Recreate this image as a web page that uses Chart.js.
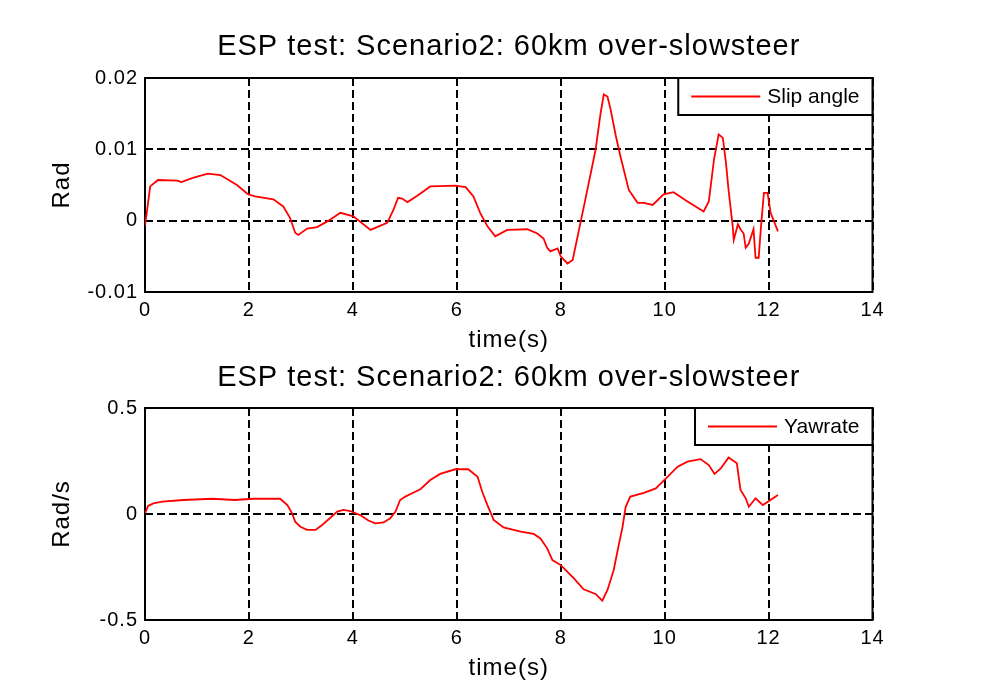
<!DOCTYPE html>
<html>
<head>
<meta charset="utf-8">
<title>ESP test</title>
<script src="https://cdn.jsdelivr.net/npm/chart.js@4.4.1/dist/chart.umd.min.js"></script>
<style>
    html, body { margin: 0; padding: 0; background: #fff; }
    #wrap { position: relative; width: 981px; height: 700px; }
    #wrap canvas { position: absolute; left: 0; }
</style>
</head>
<body>
<div id="wrap">
    <canvas id="slip-chart" width="981" height="355" style="top:0;width:981px;height:355px"></canvas>
    <canvas id="yaw-chart" width="981" height="345" style="top:355px;width:981px;height:345px"></canvas>
</div>
<script>
// data
const chartTitle = 'ESP test: Scenario2: 60km over-slowsteer';

const xTicks = [0, 2, 4, 6, 8, 10, 12, 14];

const slipTicks = [-0.01, 0, 0.01, 0.02];
const slipTickLabels = ['-0.01', '0', '0.01', '0.02'];
const yawTicks = [-0.5, 0, 0.5];
const yawTickLabels = ['-0.5', '0', '0.5'];

const slipTime = [0, 0.05, 0.1, 0.25, 0.62, 0.7, 0.92, 1.21, 1.45, 1.77, 1.98, 2.12, 2.47, 2.66, 2.79, 2.89, 2.95,
    3.12, 3.31, 3.51, 3.76, 4.01, 4.34, 4.66, 4.78, 4.87, 4.95, 5.05, 5.24, 5.49, 5.97, 6.17, 6.32, 6.45, 6.59,
    6.74, 6.97, 7.36, 7.55, 7.67, 7.74, 7.8, 7.94, 8.0, 8.13, 8.23, 8.34, 8.42, 8.54, 8.67, 8.77, 8.83, 8.9,
    8.96, 9.06, 9.15, 9.31, 9.48, 9.6, 9.77, 9.98, 10.17, 10.44, 10.75, 10.85, 10.95, 11.04, 11.12, 11.18,
    11.23, 11.31, 11.33, 11.41, 11.46, 11.52, 11.56, 11.62, 11.71, 11.75, 11.81, 11.85, 11.91, 11.98, 12.04, 12.18];
const slipAngle = [-0.0007, 0.002, 0.0048, 0.0057, 0.0056, 0.0054, 0.006, 0.0066, 0.0064, 0.005, 0.0037, 0.0034,
    0.003, 0.002, 0.0004, -0.0017, -0.002, -0.0011, -0.0009, -0.0001, 0.0011, 0.0006, -0.0013, -0.0003, 0.0015,
    0.0032, 0.0031, 0.0026, 0.0035, 0.0048, 0.0049, 0.0047, 0.0034, 0.0011, -0.0008, -0.0022, -0.0013, -0.0012,
    -0.0018, -0.0025, -0.0038, -0.0043, -0.0039, -0.005, -0.006, -0.0055, -0.0017, 0.0011, 0.0053, 0.0099,
    0.0152, 0.0177, 0.0174, 0.0156, 0.0119, 0.009, 0.0043, 0.0025, 0.0025, 0.0022, 0.0037, 0.004, 0.0027,
    0.0013, 0.0027, 0.0086, 0.0121, 0.0116, 0.0081, 0.0043, -0.0008, -0.0027, -0.0005, -0.0012, -0.0018,
    -0.0038, -0.0032, -0.0012, -0.0052, -0.0052, -0.0012, 0.0039, 0.0039, 0.0011, -0.0015];

const yawTime = [0, 0.06, 0.16, 0.33, 0.74, 1.29, 1.73, 2.08, 2.6, 2.74, 2.83, 2.89, 2.99, 3.12, 3.28, 3.41,
    3.7, 3.82, 3.95, 4.14, 4.3, 4.43, 4.59, 4.72, 4.82, 4.91, 5.01, 5.14, 5.3, 5.49, 5.68, 5.97, 6.22, 6.4,
    6.49, 6.59, 6.71, 6.9, 7.23, 7.48, 7.61, 7.74, 7.84, 8.0, 8.25, 8.44, 8.67, 8.8, 8.9, 9.02, 9.11, 9.19,
    9.25, 9.34, 9.6, 9.83, 10.06, 10.25, 10.44, 10.69, 10.85, 10.96, 11.08, 11.23, 11.39, 11.46, 11.56,
    11.62, 11.75, 11.89, 12.18];
const yawRate = [0.003, 0.038, 0.05, 0.058, 0.066, 0.072, 0.066, 0.072, 0.072, 0.042, 0.003, -0.036, -0.06,
    -0.075, -0.075, -0.052, 0.011, 0.019, 0.014, -0.005, -0.031, -0.044, -0.04, -0.02, 0.011, 0.066, 0.082,
    0.098, 0.117, 0.16, 0.189, 0.211, 0.211, 0.176, 0.105, 0.042, -0.028, -0.063, -0.083, -0.094, -0.115,
    -0.162, -0.217, -0.241, -0.303, -0.355, -0.377, -0.409, -0.358, -0.264, -0.154, -0.06, 0.034, 0.082,
    0.1, 0.121, 0.176, 0.223, 0.247, 0.259, 0.231, 0.189, 0.215, 0.266, 0.239, 0.113, 0.074, 0.034, 0.074,
    0.042, 0.09];

const fontFamily = '"Liberation Sans", Arial, Helvetica, sans-serif';
Chart.defaults.font.family = fontFamily;
Chart.defaults.color = '#000';

// axes box on all four sides, like matlab "box on"
const framePlugin = {
    id: 'frame',
    beforeDraw(chart) {
        chart.ctx.letterSpacing = '1px';
    },
    beforeDatasetsDraw(chart) {
        const { ctx, chartArea: a } = chart;
        ctx.save();
        ctx.setLineDash([]);
        ctx.strokeStyle = '#000';
        ctx.lineWidth = 2;
        ctx.strokeRect(a.left, a.top, a.right - a.left, a.bottom - a.top);
        ctx.restore();
    }
};

// boxed legend in the top right corner
const boxLegendPlugin = {
    id: 'boxLegend',
    afterDatasetsDraw(chart) {
        const ds = chart.data.datasets[0];
        const { ctx, chartArea: a } = chart;
        ctx.save();
        ctx.letterSpacing = '0px';
        ctx.font = '21px ' + fontFamily;
        const tw = ctx.measureText(ds.label).width;
        const w = 13 + 69 + 7 + tw + 13, h = 37;
        const x = a.right - w, y = a.top;
        ctx.fillStyle = '#fff';
        ctx.fillRect(x, y, w, h);
        ctx.strokeStyle = '#000';
        ctx.lineWidth = 2;
        ctx.strokeRect(x, y, w, h);
        ctx.strokeStyle = ds.borderColor;
        ctx.lineWidth = 1.8;
        ctx.beginPath();
        ctx.moveTo(x + 13, y + h / 2);
        ctx.lineTo(x + 82, y + h / 2);
        ctx.stroke();
        ctx.fillStyle = '#000';
        ctx.textBaseline = 'middle';
        ctx.fillText(ds.label, x + 89, y + h / 2 + 1);
        ctx.restore();
    }
};

function makeChart(canvasId, label, times, values, yTicks, yTickLabels, yTitle, pad) {
    const points = times.map((t, i) => ({ x: t, y: values[i] }));
    return new Chart(document.getElementById(canvasId), {
        type: 'line',
        data: {
            datasets: [{
                label: label,
                data: points,
                borderColor: '#ff0000',
                borderWidth: 1.8,
                pointRadius: 0,
                tension: 0,
                fill: false
            }]
        },
        options: {
            responsive: false,
            animation: false,
            devicePixelRatio: 1,
            layout: { padding: { top: pad.top, right: 108.5, bottom: pad.bottom, left: 0 } },
            plugins: {
                legend: { display: false },
                tooltip: { enabled: false },
                title: {
                    display: true,
                    fullSize: false, // centre over the axes, not the canvas
                    text: chartTitle,
                    color: '#000',
                    font: { size: 29, weight: 'normal' },
                    padding: { top: 0, bottom: pad.titleBottom }
                }
            },
            scales: {
                x: {
                    type: 'linear',
                    min: xTicks[0],
                    max: xTicks[xTicks.length - 1],
                    afterBuildTicks: scale => { scale.ticks = xTicks.map(v => ({ value: v })); },
                    afterFit: scale => { scale.height = 63; },
                    ticks: { font: { size: 20 }, padding: 6, maxRotation: 0, callback: v => String(v) },
                    grid: { color: '#000', lineWidth: 2, drawTicks: false },
                    border: { display: false, dash: [8, 4] },
                    title: { display: true, text: 'time(s)', font: { size: 24 }, padding: { top: 0, bottom: 0 } }
                },
                y: {
                    type: 'linear',
                    min: yTicks[0],
                    max: yTicks[yTicks.length - 1],
                    afterBuildTicks: scale => { scale.ticks = yTicks.map(v => ({ value: v })); },
                    afterFit: scale => { scale.width = 145; },
                    ticks: { font: { size: 20 }, padding: 7, callback: (v, i) => yTickLabels[i] },
                    grid: { color: '#000', lineWidth: 2, drawTicks: false },
                    border: { display: false, dash: [8, 4] },
                    title: { display: true, text: yTitle, font: { size: 24 }, padding: { top: 47.6, bottom: 0 } }
                }
            }
        },
        plugins: [framePlugin, boxLegendPlugin]
    });
}

makeChart('slip-chart', 'Slip angle', slipTime, slipAngle, slipTicks, slipTickLabels, 'Rad',
    { top: 29.6, titleBottom: 13.6, bottom: 0 });
makeChart('yaw-chart', 'Yawrate', yawTime, yawRate, yawTicks, yawTickLabels, 'Rad/s',
    { top: 5.6, titleBottom: 12.6, bottom: 17 });
</script>
</body>
</html>
